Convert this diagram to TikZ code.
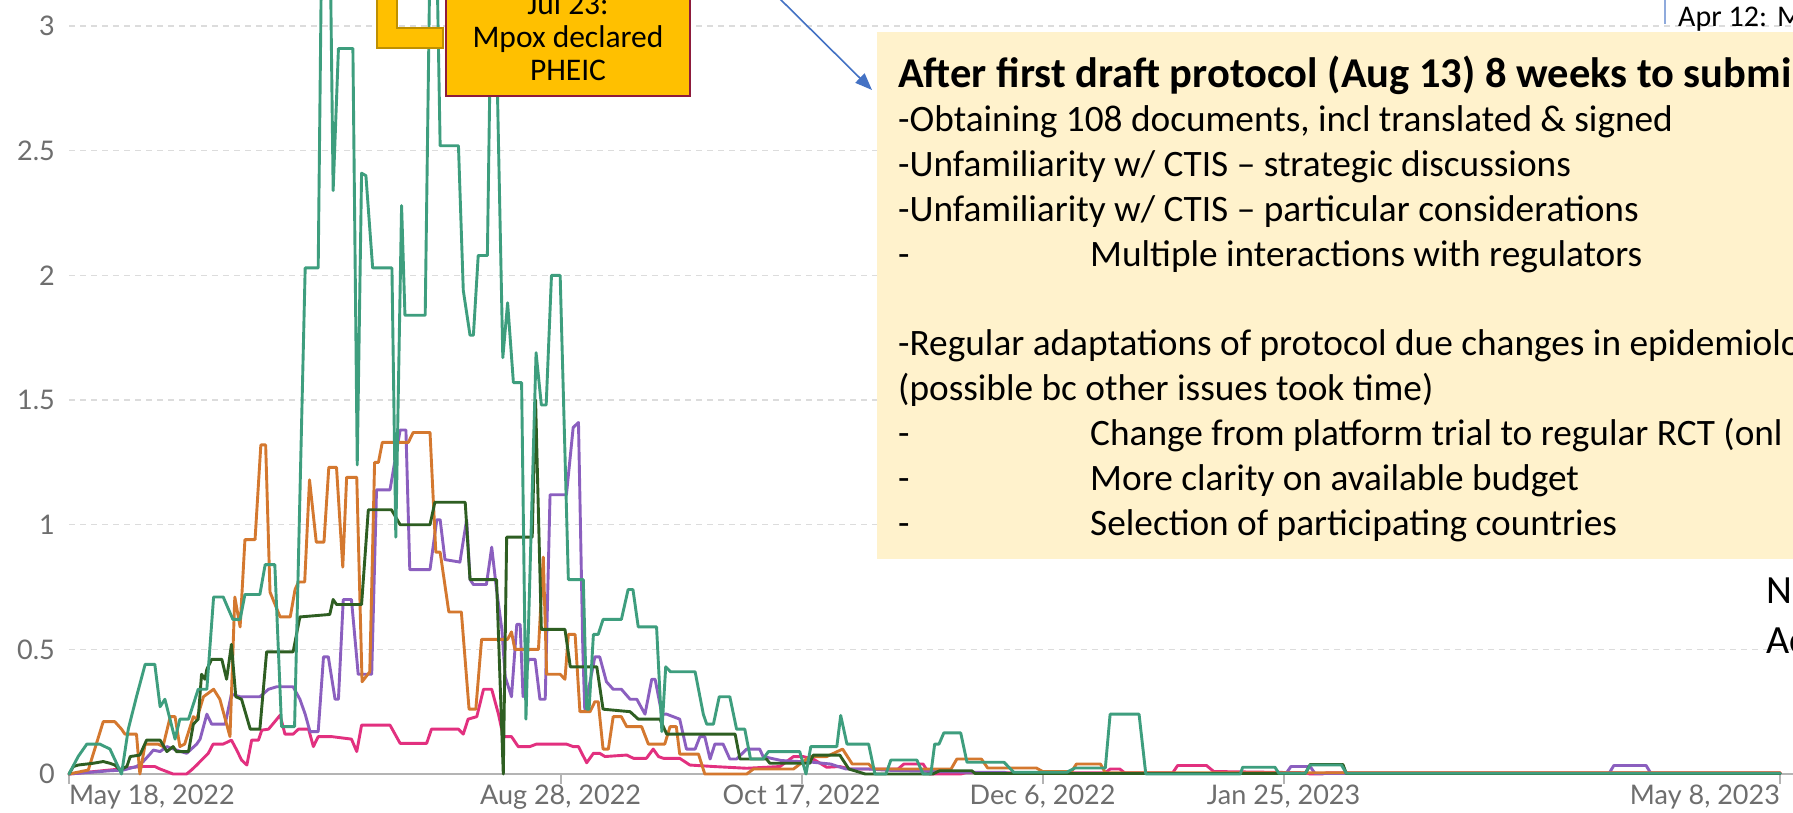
\documentclass[tikz,border=0pt]{standalone}
\usepackage{fontspec}
\setmainfont{Carlito}
\newfontfamily\latofont{Lato}
\usetikzlibrary{arrows.meta}
\definecolor{tealc}{HTML}{3E9E7E}
\definecolor{orangec}{HTML}{D4782F}
\definecolor{purplec}{HTML}{8B5FBF}
\definecolor{dgreenc}{HTML}{2E5E22}
\definecolor{pinkc}{HTML}{E2307F}
\definecolor{gridc}{HTML}{DCDCDC}
\definecolor{axisc}{HTML}{B4B4B4}
\definecolor{labc}{HTML}{6E6E6E}
\definecolor{noteyellow}{HTML}{FFF2CC}
\definecolor{pheicfill}{HTML}{FFC000}
\definecolor{pheicedge}{HTML}{8E1B3C}
\definecolor{brackedge}{HTML}{BF9000}
\definecolor{arrowblue}{HTML}{4472C4}
\definecolor{thinblue}{HTML}{8FAADC}
\tikzset{
  gridln/.style={draw=gridc, line width=1.5pt, dash pattern=on 6pt off 5pt},
  series/.style={line width=2.9pt, line join=round, line cap=round},
  ylab/.style={anchor=east, inner sep=0pt, font=\latofont\fontsize{27}{32}\selectfont, text=labc},
  xlab/.style={anchor=base, inner sep=0pt, font=\latofont\fontsize{27}{32}\selectfont, text=labc},
  boxline/.style={anchor=base west, inner sep=0pt, font=\fontsize{37.3}{44.8}\selectfont},
  pheicline/.style={anchor=base, inner sep=0pt, font=\fontsize{31.5}{33}\selectfont},
  tickmk/.style={draw=axisc, line width=2pt},
}
\begin{document}
\begin{tikzpicture}[x=1pt,y=-1pt]
\useasboundingbox (0,0) rectangle (1793,813);
\clip (0,0) rectangle (1793,813);
\fill[white] (0,0) rectangle (1793,813);

% grid
\foreach \gy in {649.4,524.7,400,275.4,150.7,26}{\draw[gridln] (69,\gy) -- (1793,\gy);}
\draw[draw=axisc, line width=2pt] (69,774) -- (1793,774);
\foreach \tx in {69,560.6,801.6,1042.6,1283.6,1780.1}{\draw[tickmk] (\tx,774) -- (\tx,784);}

% axis labels
\node[ylab] (yl0) at (55,774) {0};
\node[ylab] (yl05) at (55,649.4) {0.5};
\node[ylab] (yl1) at (55,524.7) {1};
\node[ylab] (yl15) at (55,400) {1.5};
\node[ylab] (yl2) at (55,275.4) {2};
\node[ylab] (yl25) at (55,150.7) {2.5};
\node[ylab] (yl3) at (55,26) {3};
\node[xlab, anchor=base west] (xl1) at (69,804) {May 18, 2022};
\node[xlab] (xl2) at (560.6,804) {Aug 28, 2022};
\node[xlab] (xl3) at (801.6,804) {Oct 17, 2022};
\node[xlab] (xl4) at (1042.6,804) {Dec 6, 2022};
\node[xlab] (xl5) at (1283.6,804) {Jan 25, 2023};
\node[xlab, anchor=base east] (xl6) at (1780.1,804) {May 8, 2023};

% data
\begin{scope}[shift={(69,774)}, x=4.82pt, y=249.3pt]
\draw[series, pinkc] plot coordinates {(0,0) (10.6,0.02) (14.7,0.03) (17.8,0.03) (18.9,0.02) (21.6,0) (24.4,0) (25.4,0.016) (26.5,0.036) (27.5,0.056) (28.9,0.083) (29.9,0.12) (32,0.12) (33.7,0.136) (34.8,0.096) (35.8,0.056) (36.9,0.036) (37.9,0.136) (39.3,0.136) (40,0.176) (41.4,0.18) (42.7,0.21) (43.8,0.236) (44.8,0.16) (46.5,0.16) (47.6,0.18) (49.7,0.18) (50.7,0.11) (51.7,0.15) (54.5,0.15) (58.6,0.14) (59.7,0.09) (60.7,0.196) (66.6,0.196) (68.7,0.123) (74.2,0.123) (75.2,0.18) (80.8,0.18) (81.8,0.16) (82.8,0.22) (84.6,0.23) (86,0.34) (87.7,0.34) (89.1,0.24) (90.1,0.15) (91.8,0.15) (93.2,0.11) (95.6,0.11) (97,0.12) (103.2,0.12) (104.6,0.11) (105.7,0.11) (107.4,0.045) (108.8,0.083) (110.1,0.083) (111.2,0.07) (115.7,0.076) (117.1,0.063) (119.8,0.063) (121.2,0.10) (122.3,0.07) (123.3,0.063) (126.7,0.063) (128.8,0.036) (133.7,0.03) (140.6,0.023) (147.5,0.03) (150.3,0.07) (152.3,0.07) (154.4,0.06) (157.2,0.027) (159.9,0.03) (162,0.02) (172,0.02) (173.2,0.04) (177.2,0.04) (178.5,0) (185,0) (186,0.005) (215,0.005) (216,0.02) (218,0.02) (219,0.005) (229,0.005) (230,0.034) (236,0.034) (237.5,0.01) (256.5,0.005) (257.5,0) (260,0) (261,0.005) (355,0.005)};
\draw[series, purplec] plot coordinates {(0,0) (8.5,0.013) (11.3,0.016) (14,0.03) (15.4,0.05) (16.8,0.08) (17.5,0.096) (18.9,0.09) (20.3,0.11) (22.3,0.096) (24.4,0.083) (26.5,0.12) (27.2,0.14) (28.6,0.24) (29.6,0.20) (32.4,0.20) (33.7,0.32) (35.5,0.31) (39.6,0.31) (41.4,0.34) (43.1,0.35) (46.5,0.35) (47.9,0.30) (49,0.24) (50,0.17) (51.7,0.17) (52.8,0.47) (53.8,0.47) (55.2,0.30) (55.9,0.30) (56.9,0.70) (58.6,0.70) (60,0.40) (62.8,0.40) (63.8,1.14) (66.6,1.14) (68.7,1.38) (69.9,1.38) (70.7,0.82) (74.9,0.82) (76.3,1.02) (77,1.02) (78,0.86) (81.1,0.85) (82.5,1.02) (83.2,0.78) (83.9,0.76) (86.6,0.76) (87.7,0.91) (88.7,0.74) (89.8,0.58) (90.5,0.39) (91.8,0.31) (92.9,0.60) (93.6,0.60) (94.2,0.31) (95.3,0.46) (96.7,0.46) (97.7,0.30) (98.8,0.30) (99.8,1.12) (103.2,1.12) (104.6,1.39) (105.7,1.41) (106.6,0.5) (107,0.26) (109.1,0.47) (110.1,0.47) (111.5,0.37) (112.9,0.34) (114.6,0.34) (116.4,0.30) (117.8,0.30) (119.5,0.24) (120.9,0.38) (121.6,0.38) (123,0.24) (124,0.24) (126.7,0.22) (128.1,0.10) (129.9,0.10) (130.9,0.15) (131.9,0.15) (133,0.06) (134,0.12) (135.7,0.12) (137.1,0.06) (138.5,0.06) (140.6,0.10) (143.3,0.10) (144,0.07) (147.8,0.054) (151.6,0.05) (154.4,0.047) (158,0.04) (161.2,0.02) (165.9,0.02) (170,0.015) (186.6,0.007) (194,0.007) (195,0.002) (252.5,0.002) (253.5,0.03) (257.5,0.03) (258.5,0.002) (319.5,0.002) (320.5,0.034) (327.2,0.034) (328.2,0.002) (355,0.002)};
\draw[series, orangec] plot coordinates {(0,0) (4,0.016) (7.1,0.21) (9.5,0.21) (10.9,0.18) (11.6,0.16) (14,0.16) (14.7,0) (15.8,0.12) (18.5,0.12) (19.5,0.11) (21,0.23) (22,0.23) (23,0.11) (24,0.12) (25.8,0.23) (26.5,0.22) (27.9,0.31) (30,0.34) (31.3,0.30) (33.4,0.15) (34.4,0.71) (35.5,0.59) (36.5,0.94) (38.6,0.94) (39.8,1.32) (40.8,1.32) (41.7,0.73) (43.8,0.63) (45.9,0.63) (46.9,0.74) (47.6,0.77) (48.9,0.77) (49.9,1.18) (51.3,0.93) (52.9,0.93) (53.9,1.23) (55.5,1.23) (56.8,0.83) (57.6,1.19) (59.7,1.19) (60.8,0.37) (62.4,0.41) (63.4,1.25) (64.2,1.25) (65,1.33) (70.4,1.33) (71.4,1.37) (74.9,1.37) (76.1,0.89) (77,0.89) (78.8,0.65) (81.4,0.65) (83,0.26) (84.4,0.26) (85.6,0.54) (88,0.54) (91,0.54) (91.8,0.57) (92.5,0.50) (97.4,0.50) (98.4,0.87) (99.1,0.40) (101.9,0.40) (102.9,0.38) (103.6,0.56) (105,0.56) (106,0.25) (108.1,0.25) (109.1,0.29) (109.8,0.29) (110.8,0.10) (111.9,0.10) (112.9,0.23) (114.6,0.23) (115.7,0.19) (118.8,0.19) (120.2,0.12) (123.6,0.12) (124.7,0.19) (126,0.19) (126.7,0.08) (130.6,0.08) (131.9,0) (140.6,0) (142,0.02) (150.3,0.02) (153.7,0.07) (157.2,0.07) (160.5,0.10) (162.5,0.04) (165.9,0.04) (167,0.02) (183,0.02) (184.2,0.06) (189.3,0.06) (190.6,0.024) (200.7,0.024) (202,0.01) (208,0.01) (209,0.04) (214,0.04) (215,0.005) (355,0.005)};
\draw[series, dgreenc] plot coordinates {(0,0) (0.9,0.03) (1.9,0.036) (5,0.043) (7.1,0.05) (8.5,0.043) (9.5,0.036) (10.6,0.016) (12,0.03) (12.7,0.07) (14.7,0.076) (16.1,0.136) (18.9,0.136) (20.3,0.09) (21.6,0.11) (22.3,0.09) (24.8,0.09) (25.8,0.20) (26.8,0.22) (27.5,0.40) (28.2,0.38) (28.6,0.42) (29.6,0.46) (31.7,0.46) (32.7,0.38) (33.7,0.52) (34.6,0.31) (35.8,0.30) (37.6,0.18) (39.6,0.18) (41,0.49) (46.5,0.49) (47.9,0.63) (54.1,0.64) (54.8,0.70) (55.5,0.68) (60.7,0.68) (62.1,1.06) (66.9,1.06) (68.7,1.0) (74.9,1.0) (75.9,1.09) (82.2,1.09) (83.2,0.78) (88.7,0.78) (90.1,0) (90.8,0.95) (96.1,0.95) (96.8,1.5) (98,0.58) (102.9,0.58) (104,0.43) (109.5,0.43) (110.8,0.26) (116.4,0.25) (118.1,0.22) (122.6,0.22) (124,0.16) (138.2,0.16) (139.2,0.06) (144.7,0.06) (145.4,0.043) (153.7,0.043) (154.4,0.076) (159.9,0.076) (161.8,0.02) (165.2,0) (179.2,0) (180.6,0.013) (187.3,0.013) (188,0.002) (256.5,0.002) (257.5,0.038) (264.3,0.038) (265,0.002) (355,0.002)};
\draw[series, tealc] plot coordinates {(0,0) (1.9,0.07) (3.7,0.12) (6.4,0.12) (8.5,0.10) (10.9,0) (12.3,0.18) (14,0.31) (15.8,0.44) (17.8,0.44) (18.9,0.27) (19.9,0.30) (22,0.14) (23,0.22) (24.8,0.22) (26.8,0.34) (28.6,0.34) (30,0.71) (32,0.71) (34,0.62) (35.5,0.62) (36.5,0.72) (39.6,0.72) (40.7,0.84) (42.7,0.84) (44.1,0.19) (46.8,0.19) (49,2.03) (51.7,2.03) (52.4,3.3) (54.2,3.3) (54.8,2.34) (55.9,2.91) (58.9,2.91) (59.8,1.24) (60.7,2.41) (61.6,2.40) (63,2.03) (67,2.03) (67.8,0.95) (69,2.28) (69.7,1.84) (73.9,1.84) (74.9,3.3) (76.3,3.3) (77,2.52) (80.8,2.52) (81.8,1.94) (83.2,1.76) (83.9,1.76) (84.9,2.08) (86.8,2.08) (87.7,3.3) (88.3,3.3) (90,1.67) (91,1.89) (92.2,1.57) (93.9,1.57) (94.8,0.22) (96.9,1.69) (98,1.48) (99,1.48) (100.1,2.0) (101.9,2.0) (103.6,0.78) (106.7,0.78) (107.4,0.26) (107.9,0.26) (108.8,0.56) (109.8,0.56) (110.8,0.62) (114.6,0.62) (116,0.74) (117,0.74) (118.1,0.59) (121.9,0.59) (123,0.17) (123.8,0.43) (124.8,0.41) (129.9,0.41) (131.6,0.24) (132.3,0.20) (133.7,0.20) (134.9,0.31) (137.1,0.31) (138.5,0.18) (140.2,0.18) (141.4,0.06) (144,0.06) (145.1,0.09) (151.6,0.09) (152.9,0) (153.9,0.11) (159.3,0.11) (160.1,0.235) (161.4,0.12) (165.9,0.12) (167.2,0) (169.5,0) (170.5,0.056) (175.9,0.056) (177.2,0) (178.8,0) (179.6,0.12) (180.5,0.12) (181.5,0.165) (185,0.165) (186.3,0.047) (194,0.047) (196,0.007) (207,0.007) (208.7,0.024) (215,0.024) (216,0.24) (222,0.24) (223.4,0) (243,0) (243.5,0.027) (250.2,0.027) (251,0.003) (256.5,0.003) (257.5,0.036) (264,0.036) (265,0.003) (355,0.003)};
\end{scope}

% PHEIC callout
\filldraw[fill=pheicfill, draw=brackedge, line width=2pt] (377,-5) -- (397,-5) -- (397,28) -- (443,28) -- (443,48) -- (377,48) -- cycle;
\filldraw[fill=pheicfill, draw=pheicedge, line width=2.5pt] (446,-5) rectangle (690,96);
\node[pheicline] (ph1) at (568,15) {Jul 23:};
\node[pheicline] (ph2) at (568,48) {Mpox declared};
\node[pheicline] (ph3) at (568,81) {PHEIC};

% blue arrow
\coordinate (arrS) at (775,-6);
\coordinate (arrE) at (872,90);
\draw[arrowblue, line width=1.6pt, -{Triangle[length=17pt,width=13pt]}] (arrS) -- (arrE);

% note box
\fill[noteyellow] (877,32) rectangle (1800,559);
\node[boxline, font=\fontsize{42.5}{44.8}\selectfont\bfseries] (t0) at (898,88) {After first draft protocol (Aug 13) 8 weeks to submi};
\node[boxline] (t1) at (898,131.8) {-Obtaining 108 documents, incl translated \& signed};
\node[boxline] (t2) at (898,176.6) {-Unfamiliarity w/ CTIS -- strategic discussions};
\node[boxline] (t3) at (898,221.4) {-Unfamiliarity w/ CTIS -- particular considerations};
\node[boxline] (t4) at (898,266.2) {\makebox[192pt][l]{-}Multiple interactions with regulators};
\node[boxline] (t5) at (898,355.8) {-Regular adaptations of protocol due changes in epidemiolo};
\node[boxline] (t6) at (898,400.6) {(possible bc other issues took time)};
\node[boxline] (t7) at (898,445.4) {\makebox[192pt][l]{-}Change from platform trial to regular RCT (onl};
\node[boxline] (t8) at (898,490.2) {\makebox[192pt][l]{-}More clarity on available budget};
\node[boxline] (t9) at (898,535) {\makebox[192pt][l]{-}Selection of participating countries};

% right-edge fragments
\draw[thinblue, line width=1.5pt] (1665,-2) -- (1665,24);
\node[anchor=base west, inner sep=0pt, font=\fontsize{30}{34}\selectfont] (apr) at (1678,27) {Apr 12:\hspace{10pt}M};
\node[boxline, font=\fontsize{40}{44}\selectfont] (nfrag) at (1766,603) {N};
\node[boxline, font=\fontsize{40}{44}\selectfont] (afrag) at (1766,653) {Ac};
\end{tikzpicture}
\end{document}
